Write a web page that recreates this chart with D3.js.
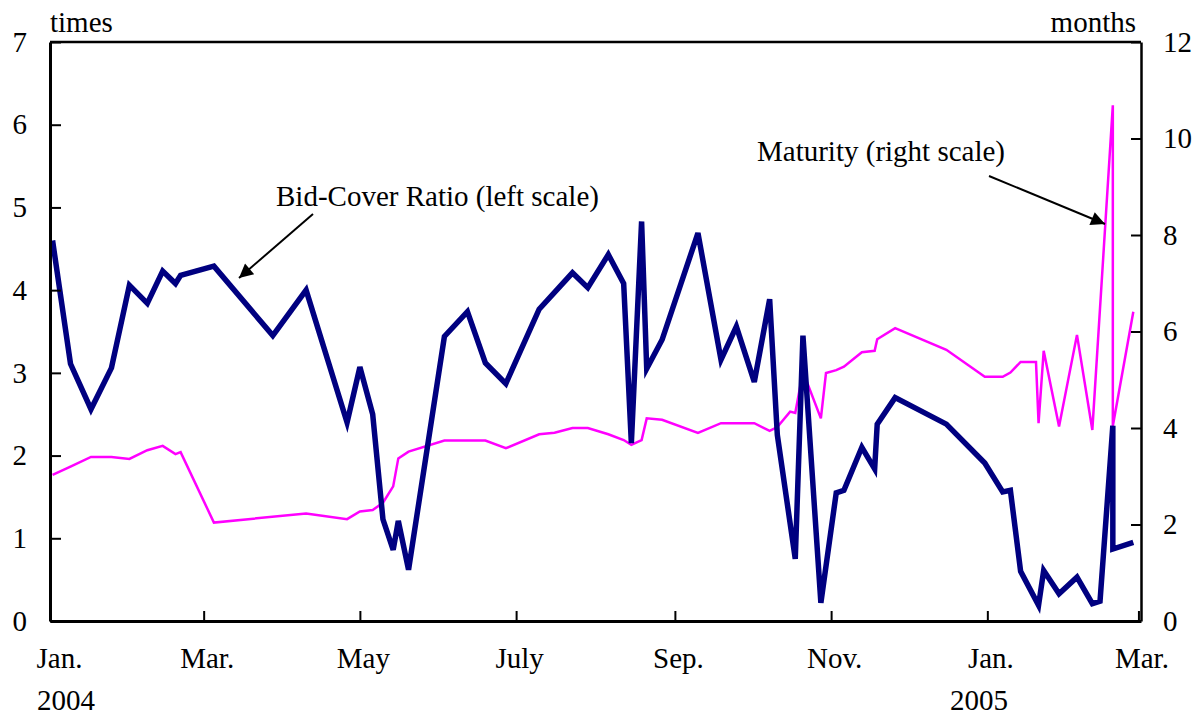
<!DOCTYPE html>
<html>
<head>
<meta charset="utf-8">
<script src="https://cdn.jsdelivr.net/npm/d3@7/dist/d3.min.js"></script>
<style>
  html, body { margin: 0; padding: 0; background: #fff; }
  svg { display: block; }
</style>
</head>
<body>
<svg id="chart" width="1196" height="715"></svg>
<script>
// ---------- DATA ----------
const bidCoverDates = [
  "2004-01-02","2004-01-09","2004-01-17","2004-01-25","2004-02-01","2004-02-08","2004-02-14","2004-02-19","2004-02-21",
  "2004-03-05","2004-03-28","2004-04-10","2004-04-26","2004-05-01","2004-05-06","2004-05-10","2004-05-14","2004-05-16",
  "2004-05-20","2004-06-03","2004-06-12","2004-06-19","2004-06-27","2004-07-10","2004-07-23","2004-07-29","2004-08-06",
  "2004-08-12","2004-08-15","2004-08-19","2004-08-21","2004-08-27","2004-09-10","2004-09-19","2004-09-25","2004-10-02",
  "2004-10-08","2004-10-11","2004-10-18","2004-10-21","2004-10-28","2004-11-03","2004-11-06","2004-11-13","2004-11-18",
  "2004-11-19","2004-11-26","2004-12-16","2004-12-31","2005-01-07","2005-01-10","2005-01-14","2005-01-21","2005-01-23",
  "2005-01-29","2005-02-05","2005-02-11","2005-02-14","2005-02-19","2005-02-19","2005-02-27"
];
const bidCoverValues = [
  4.60,3.11,2.56,3.06,4.06,3.84,4.23,4.08,4.18,
  4.29,3.45,4.00,2.40,3.07,2.50,1.23,0.86,1.21,
  0.62,3.44,3.74,3.12,2.87,3.77,4.21,4.03,4.43,
  4.08,2.15,4.83,3.05,3.40,4.69,3.16,3.56,2.89,
  3.89,2.25,0.75,3.45,0.22,1.55,1.58,2.10,1.84,
  2.38,2.70,2.38,1.91,1.56,1.58,0.60,0.19,0.61,
  0.33,0.53,0.21,0.24,2.36,0.87,0.95
];
const maturityDates = [
  "2004-01-02","2004-01-09","2004-01-17","2004-01-25","2004-02-01","2004-02-08","2004-02-14","2004-02-19","2004-02-21",
  "2004-03-05","2004-04-10","2004-04-26","2004-05-01","2004-05-06","2004-05-10","2004-05-14","2004-05-16","2004-05-20",
  "2004-06-03","2004-06-12","2004-06-19","2004-06-27","2004-07-10","2004-07-16","2004-07-23","2004-07-29","2004-08-06",
  "2004-08-12","2004-08-15","2004-08-19","2004-08-21","2004-08-27","2004-09-10","2004-09-19","2004-09-25","2004-10-02",
  "2004-10-08","2004-10-11","2004-10-16","2004-10-18","2004-10-21","2004-10-28","2004-10-30","2004-11-03","2004-11-06",
  "2004-11-13","2004-11-18","2004-11-19","2004-11-26","2004-12-16","2004-12-31","2005-01-07","2005-01-10","2005-01-14",
  "2005-01-20","2005-01-21","2005-01-23","2005-01-29","2005-02-05","2005-02-11","2005-02-19","2005-02-19","2005-02-27"
];
const maturityValues = [
  3.03,3.20,3.40,3.40,3.36,3.54,3.63,3.46,3.50,
  2.04,2.23,2.11,2.27,2.30,2.45,2.79,3.37,3.51,
  3.74,3.74,3.74,3.58,3.87,3.90,4.00,4.00,3.87,
  3.75,3.65,3.75,4.20,4.17,3.90,4.10,4.10,4.10,
  3.94,4.02,4.34,4.31,5.17,4.20,5.14,5.20,5.27,
  5.57,5.60,5.84,6.07,5.62,5.06,5.06,5.15,5.37,
  5.37,4.10,5.60,4.03,5.93,3.96,10.69,4.04,6.41
];
const xTickDates = ["2004-01-01","2004-03-01","2004-05-01","2004-07-01","2004-09-01","2004-11-01","2005-01-01","2005-03-01"];
const xTickLabels = ["Jan.","Mar.","May","July","Sep.","Nov.","Jan.","Mar."];
const yearLabels = ["2004","2005"];
const leftTicks = [0,1,2,3,4,5,6,7];
const rightTicks = [0,2,4,6,8,10,12];

// ---------- LAYOUT ----------
const parse = d3.timeParse("%Y-%m-%d");
const L = 50, R = 1141, T = 42, B = 621;
const FONT = "'Liberation Serif','Times New Roman',serif";
const FS = 29;

const x = d3.scaleTime().domain([parse("2004-01-01"), parse("2005-03-02")]).range([L, R]);
const yL = d3.scaleLinear().domain([0, 7]).range([B, T]);
const yR = d3.scaleLinear().domain([0, 12]).range([B, T]);

const svg = d3.select("#chart");

const bid = bidCoverDates.map((d, i) => ({ d: parse(d), v: bidCoverValues[i] }));
const mat = maturityDates.map((d, i) => ({ d: parse(d), v: maturityValues[i] }));

// maturity line (right scale)
svg.append("path")
  .datum(mat)
  .attr("fill", "none")
  .attr("stroke", "#FF00FF")
  .attr("stroke-width", 2.5)
  .attr("d", d3.line().x(p => x(p.d)).y(p => yR(p.v)));

// bid-cover line (left scale)
svg.append("path")
  .datum(bid)
  .attr("fill", "none")
  .attr("stroke", "#000080")
  .attr("stroke-width", 5.5)
  .attr("d", d3.line().x(p => x(p.d)).y(p => yL(p.v)));

// top frame
svg.append("line")
  .attr("x1", L).attr("x2", R).attr("y1", T).attr("y2", T)
  .attr("stroke", "#000").attr("stroke-width", 2.5);

// left axis
const gL = svg.append("g").attr("transform", `translate(${L},0)`)
  .call(d3.axisLeft(yL).tickValues(leftTicks).tickSize(-11).tickSizeOuter(0).tickPadding(23).tickFormat(d3.format("d")));
// right axis
const gR = svg.append("g").attr("transform", `translate(${R},0)`)
  .call(d3.axisRight(yR).tickValues(rightTicks).tickSize(-10).tickSizeOuter(0).tickPadding(22).tickFormat(d3.format("d")));
// bottom axis
const gB = svg.append("g").attr("transform", `translate(0,${B})`)
  .call(d3.axisBottom(x).tickValues(xTickDates.map(parse)).tickSize(-10).tickSizeOuter(0).tickPadding(26)
    .tickFormat((d, i) => xTickLabels[i]));

[gL, gR, gB].forEach(g => {
  g.attr("font-family", FONT).attr("font-size", FS);
  g.selectAll("text").attr("fill", "#000");
  g.selectAll(".tick line").attr("stroke", "#000").attr("stroke-width", 2);
  g.select(".domain").attr("stroke", "#000").attr("stroke-width", 3);
});
gR.select(".domain").attr("stroke-width", 2.5);
gB.selectAll(".tick text").attr("dx", (d, i) => i === 0 ? 9 : 3);

// year labels
svg.append("text").attr("x", 37).attr("y", 710).attr("font-family", FONT).attr("font-size", FS).text(yearLabels[0]);
svg.append("text").attr("x", 950).attr("y", 710).attr("font-family", FONT).attr("font-size", FS).text(yearLabels[1]);

// unit labels
svg.append("text").attr("x", 50).attr("y", 32).attr("font-family", FONT).attr("font-size", FS).text("times");
svg.append("text").attr("x", 1136).attr("y", 32).attr("text-anchor", "end").attr("font-family", FONT).attr("font-size", FS).text("months");

// annotations with arrows
const defs = svg.append("defs");
defs.append("marker")
  .attr("id", "arrow").attr("viewBox", "0 0 10 10").attr("refX", 10).attr("refY", 5)
  .attr("markerUnits", "userSpaceOnUse").attr("markerWidth", 18).attr("markerHeight", 14)
  .attr("orient", "auto")
  .append("path").attr("d", "M0,0L10,5L0,10Z").attr("fill", "#000");

svg.append("text").attr("x", 276).attr("y", 206).attr("font-family", FONT).attr("font-size", FS).text("Bid-Cover Ratio (left scale)");
svg.append("line").attr("x1", 313).attr("y1", 214).attr("x2", 239).attr("y2", 278)
  .attr("stroke", "#000").attr("stroke-width", 2).attr("marker-end", "url(#arrow)");

svg.append("text").attr("x", 757).attr("y", 161).attr("font-family", FONT).attr("font-size", FS).text("Maturity (right scale)");
svg.append("line").attr("x1", 989).attr("y1", 176).attr("x2", 1105).attr("y2", 224)
  .attr("stroke", "#000").attr("stroke-width", 2).attr("marker-end", "url(#arrow)");
</script>
</body>
</html>
